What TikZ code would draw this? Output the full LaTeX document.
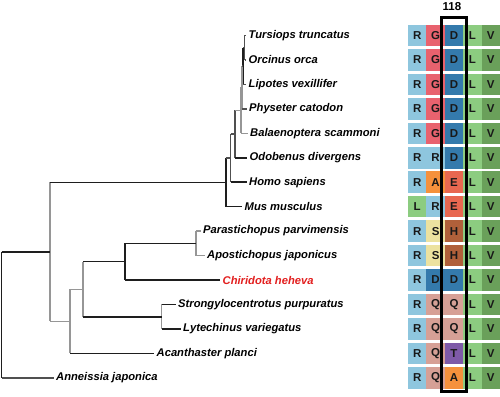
\documentclass[tikz,border=0pt]{standalone}
\usepackage{fontspec}
\setmainfont{Liberation Sans}
\definecolor{aaR}{RGB}{142,198,222}
\definecolor{aaG}{RGB}{232,98,110}
\definecolor{aaD}{RGB}{52,122,172}
\definecolor{aaL}{RGB}{140,204,128}
\definecolor{aaV}{RGB}{106,160,90}
\definecolor{aaA}{RGB}{245,145,60}
\definecolor{aaE}{RGB}{232,104,80}
\definecolor{aaS}{RGB}{236,226,160}
\definecolor{aaH}{RGB}{176,96,58}
\definecolor{aaQ}{RGB}{214,160,150}
\definecolor{aaT}{RGB}{126,90,168}
\definecolor{lblk}{RGB}{30,30,30}
\definecolor{ldark}{RGB}{80,80,80}
\definecolor{lgray}{RGB}{150,150,150}
\definecolor{redlabel}{RGB}{226,30,30}
\tikzset{
  taxon/.style={anchor=west, inner xsep=2.5pt, inner ysep=0pt, font=\fontsize{11.2}{13}\selectfont\bfseries\itshape, text=black},
  aacell/.style={minimum width=18.4pt, minimum height=21.5pt, inner sep=0pt, font=\fontsize{11.5}{13}\selectfont\bfseries, text=black!90},
  bk/.style={draw=lblk, line width=1.6pt},
  dk/.style={draw=ldark, line width=1.4pt},
  gy/.style={draw=lgray, line width=1.4pt},
  posbox/.style={draw=black, line width=3pt, minimum width=24.5pt, minimum height=374pt, inner sep=0pt},
  poslabel/.style={font=\fontsize{11.5}{13}\selectfont\bfseries, inner sep=0pt}
}
\begin{document}
\begin{tikzpicture}[x=1pt, y=-1pt]
\useasboundingbox (0,0) rectangle (500,396);
% taxon labels
\node[taxon] (t0) at (246,35.5) {Tursiops truncatus};
\node[taxon] (t1) at (246,59.95) {Orcinus orca};
\node[taxon] (t2) at (246,84.4) {Lipotes vexillifer};
\node[taxon] (t3) at (246.5,108.85) {Physeter catodon};
\node[taxon] (t4) at (247.5,133.3) {Balaenoptera scammoni};
\node[taxon] (t5) at (247,157.75) {Odobenus divergens};
\node[taxon] (t6) at (246.5,182.2) {Homo sapiens};
\node[taxon] (t7) at (242,206.65) {Mus musculus};
\node[taxon] (t8) at (200.5,231.1) {Parastichopus parvimensis};
\node[taxon] (t9) at (204.5,255.55) {Apostichopus japonicus};
\node[taxon, text=redlabel] (t10) at (220,280) {Chiridota heheva};
\node[taxon] (t11) at (175.5,304.45) {Strongylocentrotus purpuratus};
\node[taxon] (t12) at (180.5,328.9) {Lytechinus variegatus};
\node[taxon] (t13) at (154,353.35) {Acanthaster planci};
\node[taxon] (t14) at (53.5,377.8) {Anneissia japonica};
% internal nodes
\coordinate (nA) at (244.5,47.7);
\coordinate (nB) at (242.8,66.0);
\coordinate (nC) at (242,87.4);
\coordinate (nD) at (241,110.4);
\coordinate (nE) at (235,134.1);
\coordinate (nF) at (230.5,158.15);
\coordinate (nG) at (225.7,182.4);
\coordinate (nP) at (196,243.3);
\coordinate (nH) at (124.7,261.65);
\coordinate (nS) at (161.7,316.7);
\coordinate (nI) at (83,289.2);
\coordinate (nJ) at (70,321.3);
\coordinate (nK) at (50,251.85);
\coordinate (nL) at (1.5,314.8);
% vertical lines
\draw[dk] (nA |- t0.west) -- (nA |- t1.west);
\draw[bk] (nB |- nA) -- (nB |- t2.west);
\draw[gy] (nC |- nB) -- (nC |- t3.west);
\draw[gy] (nD |- nC) -- (nD |- t4.west);
\draw[dk] (nE |- nD) -- (nE |- t5.west);
\draw[dk] (nF |- nE) -- (nF |- t6.west);
\draw[bk] (nG |- nF) -- (nG |- t7.west);
\draw[gy] (nP |- t8.west) -- (nP |- t9.west);
\draw[bk] (nH |- nP) -- (nH |- t10.west);
\draw[gy] (nS |- t11.west) -- (nS |- t12.west);
\draw[gy] (nI |- nH) -- (nI |- nS);
\draw[gy] (nJ |- nI) -- (nJ |- t13.west);
\draw[gy] (nK |- nG) -- (nK |- nJ);
\draw[bk] (nL |- nK) -- (nL |- t14.west);
% horizontal branches
\draw[dk] (nA |- t0.west) -- (t0.west);
\draw[dk] (nA |- t1.west) -- (t1.west);
\draw[dk] (nB |- nA) -- (nA);
\draw[dk] (nB |- t2.west) -- (t2.west);
\draw[dk] (nC |- nB) -- (nB);
\draw[dk] (nC |- t3.west) -- (t3.west);
\draw[gy] (nD |- nC) -- (nC);
\draw[gy] (nD |- t4.west) -- (t4.west);
\draw[gy] (nE |- nD) -- (nD);
\draw[bk] (nE |- t5.west) -- (t5.west);
\draw[dk] (nF |- nE) -- (nE);
\draw[bk] (nF |- t6.west) -- (t6.west);
\draw[dk] (nG |- nF) -- (nF);
\draw[bk] (nG |- t7.west) -- (t7.west);
\draw[bk] (nK |- nG) -- (nG);
\draw[gy] (nP |- t8.west) -- (t8.west);
\draw[gy] (nP |- t9.west) -- (t9.west);
\draw[bk] (nH |- nP) -- (nP);
\draw[bk] (nH |- t10.west) -- (t10.west);
\draw[bk] (nI |- nH) -- (nH);
\draw[bk] (nS |- t11.west) -- (t11.west);
\draw[bk] (nS |- t12.west) -- (t12.west);
\draw[bk] (nI |- nS) -- (nS);
\draw[gy] (nJ |- nI) -- (nI);
\draw[bk] (nJ |- t13.west) -- (t13.west);
\draw[gy] (nK |- nJ) -- (nJ);
\draw[bk] (nL |- nK) -- (nK);
\draw[dk] (nL |- t14.west) -- (t14.west);
% alignment cells
\foreach \r/\y/\a/\b/\c in {0/35.5/R/G/D, 1/59.95/R/G/D, 2/84.4/R/G/D, 3/108.85/R/G/D, 4/133.3/R/G/D, 5/157.75/R/R/D, 6/182.2/R/A/E, 7/206.65/L/R/E, 8/231.1/R/S/H, 9/255.55/R/S/H, 10/280/R/D/D, 11/304.45/R/Q/Q, 12/328.9/R/Q/Q, 13/353.35/R/Q/T, 14/377.8/R/Q/A}{
  \node[aacell, fill=aa\a] (c\r-1) at (417.2,\y) {\a};
  \node[aacell, fill=aa\b] (c\r-2) at (435.6,\y) {\b};
  \node[aacell, fill=aa\c] (c\r-3) at (454,\y) {\c};
  \node[aacell, fill=aaL] (c\r-4) at (472.4,\y) {L};
  \node[aacell, fill=aaV] (c\r-5) at (490.8,\y) {V};
}
\node[posbox] (box) at (453.75,204.5) {};
\node[poslabel] (pos) at (452,6.5) {118};
\end{tikzpicture}
\end{document}
